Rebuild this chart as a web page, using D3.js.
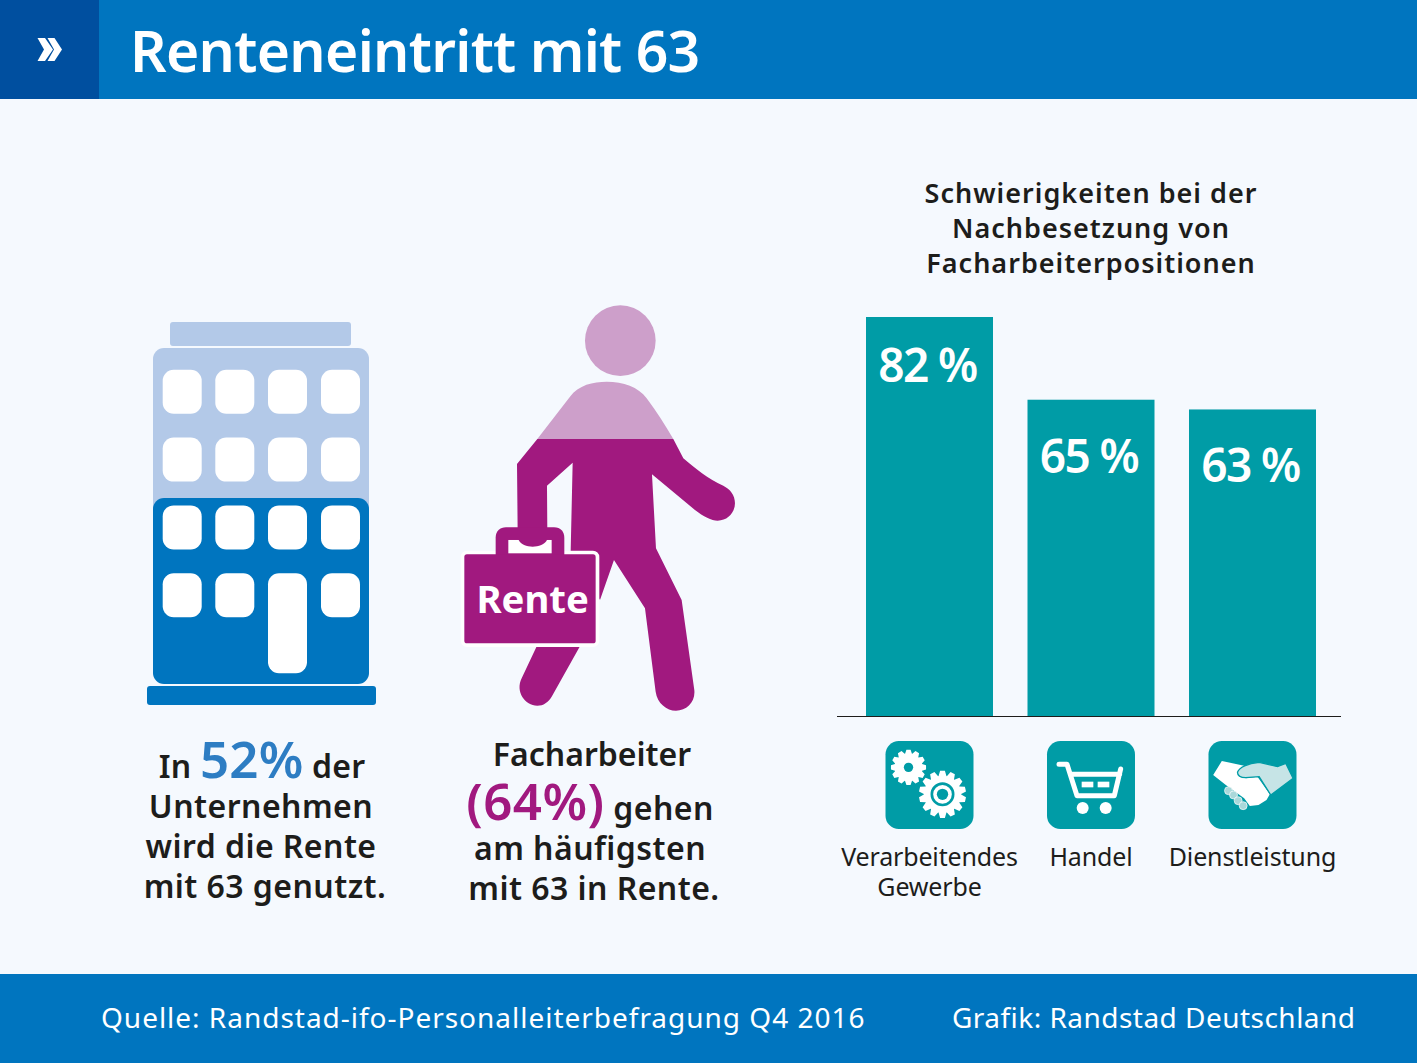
<!DOCTYPE html>
<html lang="de">
<head>
<meta charset="UTF-8">
<title>Renteneintritt mit 63</title>
<script src="https://d3js.org/d3.v7.min.js"></script>
<style>
  html, body { margin: 0; padding: 0; background: #f5f9fe; }
  svg { display: block; font-family: 'Noto Sans', sans-serif; }
  .bold { font-weight: 600; fill: #1d1d1b; letter-spacing: 0.45px; }
</style>
</head>
<body>
<div id="chart"></div>
<script>
var categories = ["Verarbeitendes Gewerbe", "Handel", "Dienstleistung"];
var values = [82, 65, 63];
var titleLines = ["Schwierigkeiten bei der", "Nachbesetzung von", "Facharbeiterpositionen"];
var companyShare = 52;
var workerShare = 64;

var teal = "#009ca6", blue = "#0075bf", navy = "#004f9f", purple = "#a1197f",
    lightBlue = "#b3c9e8", lightPurple = "#cd9fca", ink = "#1d1d1b";

var svg = d3.select("#chart").append("svg").attr("width", 1417).attr("height", 1063);
svg.append("rect").attr("width", 1417).attr("height", 1063).attr("fill", "#f5f9fe");

// header
svg.append("rect").attr("width", 1417).attr("height", 99).attr("fill", blue);
svg.append("rect").attr("width", 99).attr("height", 99).attr("fill", navy);
svg.append("path").attr("fill", "white")
  .attr("d", "M37.5,38h7.5l8,11.5l-8,11.5h-7.5l6.5,-11.5zM47.5,38h7l7.5,11.5l-7.5,11.5h-7l6.5,-11.5z");
svg.append("text").attr("x", 130).attr("y", 72).attr("fill", "white")
  .attr("font-size", 57).attr("font-weight", 600).style("letter-spacing", "-0.7px")
  .text("Renteneintritt mit 63");

// footer
svg.append("rect").attr("y", 974).attr("width", 1417).attr("height", 89).attr("fill", blue);
svg.append("text").attr("x", 101).attr("y", 1028).attr("fill", "white").attr("font-size", 28)
  .style("letter-spacing", "0.98px").text("Quelle: Randstad-ifo-Personalleiterbefragung Q4 2016");
svg.append("text").attr("x", 952).attr("y", 1028).attr("fill", "white").attr("font-size", 28)
  .style("letter-spacing", "0.47px").text("Grafik: Randstad Deutschland");

// building
var building = svg.append("g");
building.append("rect").attr("x", 170).attr("y", 322).attr("width", 181).attr("height", 24).attr("rx", 3).attr("fill", lightBlue);
building.append("rect").attr("x", 153).attr("y", 348).attr("width", 216).attr("height", 170).attr("rx", 11).attr("fill", lightBlue);
building.append("rect").attr("x", 153).attr("y", 498).attr("width", 216).attr("height", 186).attr("rx", 11).attr("fill", blue);
building.append("rect").attr("x", 147).attr("y", 686).attr("width", 229).attr("height", 19).attr("rx", 3).attr("fill", blue);
[369.7, 437.6, 505.4, 573.2].forEach(function (wy, row) {
  [162.7, 215.3, 268, 321].forEach(function (wx, col) {
    var door = row == 3 && col == 2;
    building.append("rect").attr("x", wx).attr("y", wy).attr("width", 39)
      .attr("height", door ? 100 : 44).attr("rx", 11).attr("fill", "white");
  });
});

// person, drawn in the coordinates of the 3x crop
var person = svg.append("g").attr("transform", "translate(450,295) scale(0.3333)");
person.append("circle").attr("cx", 511).attr("cy", 137).attr("r", 106).attr("fill", lightPurple);
person.append("path").attr("fill", purple)
  .attr("d", "M262,432L201,507L203,710L292,710L291,572L368,503L362,770L450,915L492,795L585,940L617,1190" +
    "C622,1225 650,1247 678,1247C710,1247 737,1222 733,1185L695,915L618,760L606,538L735,645" +
    "C760,665 785,677 803,677C835,677 855,650 855,625C855,600 840,582 820,572C775,552 735,520 700,490L670,432Z");
person.append("path").attr("fill", lightPurple)
  .attr("d", "M262,432L360,305C385,270 430,260 470,260C520,260 565,275 590,310C620,350 645,390 670,432Z");
person.append("path").attr("fill", purple)
  .attr("d", "M262,1050L215,1150C195,1190 225,1232 262,1232C280,1232 295,1222 305,1205L392,1050Z");
// briefcase
person.append("rect").attr("x", 43).attr("y", 778).attr("width", 394).attr("height", 267).attr("rx", 8)
  .attr("fill", purple).attr("stroke", "#fff").attr("stroke-width", 22);
person.append("path").attr("fill", purple)
  .attr("d", "M137,782V728C137,708 150,697 168,697H312C332,697 343,710 343,728V782Z");
person.append("rect").attr("x", 175).attr("y", 735).attr("width", 130).attr("height", 40).attr("fill", "#fff");
person.append("path").attr("fill", purple)
  .attr("d", "M205,733H292C285,750 265,755 248,755C230,755 212,750 205,733Z");
person.append("rect").attr("x", 43).attr("y", 778).attr("width", 394).attr("height", 267).attr("rx", 8).attr("fill", purple);
person.append("text").attr("x", 248).attr("y", 955).attr("text-anchor", "middle").attr("fill", "white")
  .attr("font-size", 115).attr("font-weight", 700).text("Rente");

// captions
function captionLine(cx, y, parts, spacing) {
  var t = svg.append("text").attr("class", "bold").attr("x", cx).attr("y", y)
    .attr("text-anchor", "middle").attr("font-size", 32);
  if (spacing != null) t.style("letter-spacing", spacing + "px");
  parts.forEach(function (p) {
    var s = t.append("tspan").text(p.text);
    if (p.color) s.attr("font-size", p.size).style("fill", p.color);
  });
}
captionLine(262, 778, [{ text: "In " }, { text: companyShare + "%", color: "#2d7dc3", size: 51 }, { text: " der" }], 0.2);
captionLine(261, 818, [{ text: "Unternehmen" }]);
captionLine(261, 858, [{ text: "wird die Rente" }]);
captionLine(265, 898, [{ text: "mit 63 genutzt." }]);
captionLine(592, 766, [{ text: "Facharbeiter" }], 0);
captionLine(590, 820, [{ text: "(" + workerShare + "%)", color: purple, size: 51 }, { text: " gehen" }]);
captionLine(590, 860, [{ text: "am häufigsten" }]);
captionLine(594, 900, [{ text: "mit 63 in Rente." }]);

// bar chart
var x = d3.scaleBand().domain(categories).range([866, 1316]).paddingInner(0.2136);
var y = d3.scaleLinear().domain([0, 82]).range([716, 317]);

svg.append("text").attr("class", "bold").attr("text-anchor", "middle").attr("font-size", 27)
  .style("letter-spacing", "1px")
  .selectAll("tspan").data(titleLines).join("tspan")
  .attr("x", 1091).attr("y", function (d, i) { return 203 + i * 35; }).text(function (d) { return d; });

svg.selectAll(".bar").data(values).join("rect").attr("class", "bar")
  .attr("x", function (d, i) { return x(categories[i]); })
  .attr("y", function (d) { return y(d); })
  .attr("width", x.bandwidth())
  .attr("height", function (d) { return y(0) - y(d); })
  .attr("fill", teal);

svg.selectAll(".val").data(values).join("text").attr("class", "val")
  .attr("x", function (d, i) { return x(categories[i]) + x.bandwidth() / 2 - 2; })
  .attr("y", function (d, i) { return y(d) + (i == 0 ? 65 : 73); })
  .attr("text-anchor", "middle").attr("fill", "white")
  .attr("font-size", 46).attr("font-weight", 600).style("letter-spacing", "-1.6px")
  .text(function (d) { return d + " %"; });

svg.append("line").attr("x1", 837).attr("x2", 1341).attr("y1", 716.5).attr("y2", 716.5)
  .attr("stroke", ink).attr("stroke-width", 1.2);

svg.selectAll(".lab").data(categories).join("text").attr("class", "lab")
  .attr("text-anchor", "middle").attr("font-size", 25).attr("fill", ink).style("letter-spacing", "-0.15px")
  .each(function (d) {
    var cx = x(d) + x.bandwidth() / 2;
    d3.select(this).selectAll("tspan").data(d.split(" ")).join("tspan")
      .attr("x", cx).attr("y", function (w, i) { return 866 + i * 30; }).text(function (w) { return w; });
  });

// icons, 3x crop coordinates around the centre of each tile
function gear(r1, r2, n) {
  var pts = [];
  for (var i = 0; i < n; i++) {
    var a = i / n * 2 * Math.PI, w = Math.PI / n;
    pts.push([a - w * 0.95, r2], [a - w * 0.45, r1], [a + w * 0.45, r1], [a + w * 0.95, r2]);
  }
  return d3.lineRadial()(pts) + "Z";
}
var icons = svg.selectAll(".icon").data(categories).join("g").attr("class", "icon")
  .attr("transform", function (d) { return "translate(" + (x(d) + x.bandwidth() / 2) + ",785) scale(0.3333)"; });
icons.append("rect").attr("x", -132).attr("y", -132).attr("width", 264).attr("height", 264).attr("rx", 40).attr("fill", teal);

var gears = d3.select(icons.nodes()[0]);
gears.append("path").attr("fill", "white").attr("transform", "translate(-63,-53)").attr("d", gear(53, 42, 12));
gears.append("circle").attr("cx", -63).attr("cy", -53).attr("r", 14).attr("fill", teal);
gears.append("path").attr("fill", "white").attr("transform", "translate(39,28)").attr("d", gear(71, 56, 14));
gears.append("circle").attr("cx", 39).attr("cy", 28).attr("r", 32).attr("fill", "none").attr("stroke", teal).attr("stroke-width", 8);
gears.append("circle").attr("cx", 39).attr("cy", 28).attr("r", 17).attr("fill", teal);

var cart = d3.select(icons.nodes()[1]);
cart.append("path").attr("fill", "none").attr("stroke", "white").attr("stroke-width", 15)
  .attr("stroke-linecap", "round").attr("stroke-linejoin", "round")
  .attr("d", "M-96,-62H-72L-42,32H70L89,-48M-62,-32L86,-32");
cart.append("rect").attr("x", -28).attr("y", -10).attr("width", 35).attr("height", 17).attr("fill", "white");
cart.append("rect").attr("x", 20).attr("y", -10).attr("width", 35).attr("height", 17).attr("fill", "white");
cart.append("circle").attr("cx", -25).attr("cy", 69).attr("r", 18).attr("fill", "white");
cart.append("circle").attr("cx", 44).attr("cy", 69).attr("r", 18).attr("fill", "white");

var hands = d3.select(icons.nodes()[2]);
hands.append("path").attr("fill", "white")
  .attr("d", "M-92,-72L-25,-58L-45,-35L-20,-20L15,-25L52,28L42,45L18,60L-8,63L-25,40L-80,0L-118,-30Z");
hands.append("path").attr("fill", "#c6e4e6").attr("stroke", teal).attr("stroke-width", 4)
  .attr("d", "M-45,-38C-40,-52 -15,-65 20,-68L75,-55L100,-65L122,-20L55,30L20,-25L-20,-22C-35,-22 -45,-28 -45,-38Z");
[[-72, 17], [-57, 30], [-43, 47], [-28, 62]].forEach(function (f) {
  hands.append("circle").attr("cx", f[0]).attr("cy", f[1]).attr("r", 12).attr("fill", "#a9d8da").attr("stroke", "white").attr("stroke-width", 2);
});
</script>
</body>
</html>
